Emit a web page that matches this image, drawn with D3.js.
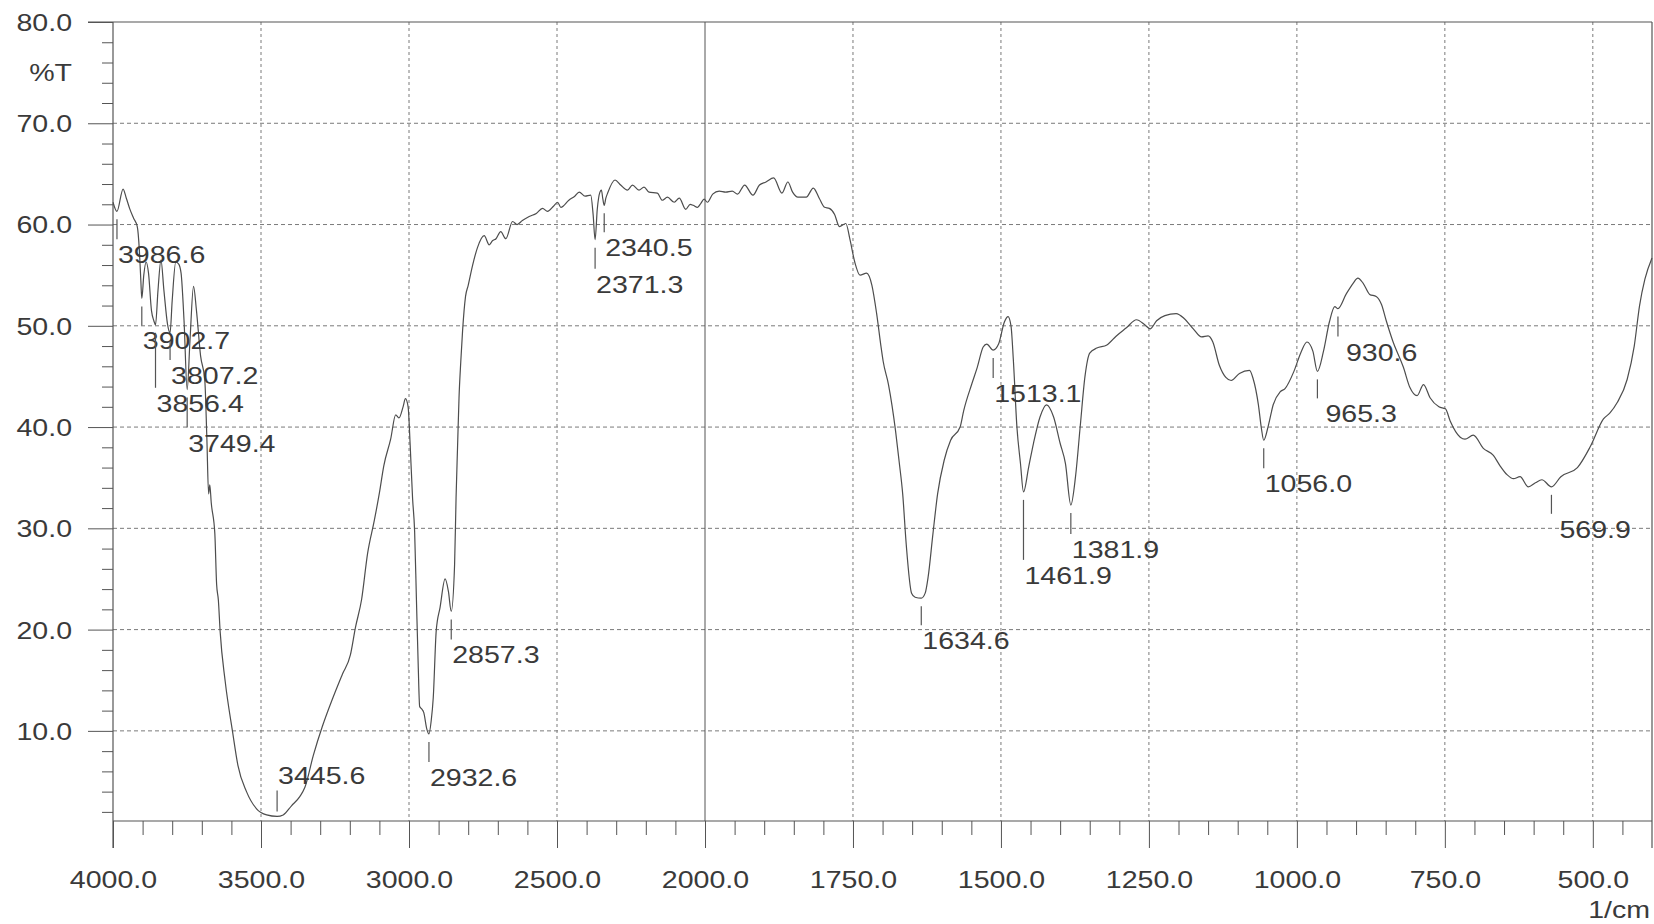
<!DOCTYPE html>
<html>
<head>
<meta charset="utf-8">
<script src="https://cdn.jsdelivr.net/npm/d3@7"></script>
<style>
  html, body { margin: 0; padding: 0; background: #ffffff; }
  svg { display: block; }
  text { font-family: "Liberation Sans", Arial, sans-serif; font-size: 24px; fill: #3a3a3a; }
</style>
</head>
<body>
<svg id="chart" width="1654" height="924"></svg>
<script>
// ---------------- data ----------------
const wavenumbers = [
  4000, 3986.6, 3966, 3955, 3944, 3930, 3918, 3911, 3906, 3902.7, 3896, 3888, 3880, 3870, 3862, 3856.4,
  3848, 3838, 3828, 3816, 3807.2, 3800, 3788, 3778, 3770, 3760, 3749.4, 3740, 3728, 3718, 3704, 3690,
  3683, 3677, 3673, 3668, 3656, 3650, 3644, 3638, 3621, 3596, 3578, 3549, 3515, 3481, 3445.6, 3425,
  3397, 3369, 3352, 3323, 3292, 3258, 3225, 3198, 3181, 3160, 3140, 3117, 3100, 3085, 3062, 3045,
  3034, 3020, 3012, 3003, 2996, 2988, 2981, 2975, 2969, 2964, 2958, 2950, 2940, 2932.6, 2925, 2918,
  2908, 2895, 2878, 2867, 2857.3, 2846, 2841, 2836, 2831, 2825, 2819, 2809, 2800, 2785, 2769, 2746,
  2729, 2718, 2706, 2690, 2673, 2650, 2635, 2617, 2594, 2570, 2549, 2532, 2512, 2498, 2487, 2460,
  2440, 2425, 2405, 2386, 2378, 2371.3, 2364, 2355, 2350, 2345, 2340.5, 2335, 2329, 2304, 2285, 2262,
  2245, 2223, 2206, 2189, 2161, 2144, 2127, 2104, 2087, 2065, 2050, 2040, 2025, 2014, 2003, 1996,
  1987, 1976, 1965, 1954, 1945, 1933, 1919, 1908, 1897, 1884, 1870, 1860, 1852, 1843, 1829, 1817,
  1807, 1798, 1790, 1781, 1773, 1762, 1755, 1747, 1738, 1727, 1718, 1710, 1703, 1699, 1690, 1678,
  1672, 1666, 1660, 1651, 1645, 1634.6, 1628, 1623, 1615, 1607, 1596, 1585, 1569, 1563, 1549, 1540,
  1530, 1524, 1513.1, 1504, 1494, 1488, 1483, 1479, 1473, 1467, 1461.9, 1453, 1445, 1434, 1423, 1411,
  1400, 1391, 1381.9, 1374, 1366, 1358, 1350, 1338, 1321, 1305, 1288, 1271, 1257, 1248, 1237, 1223,
  1204, 1190, 1175, 1161, 1150, 1142, 1131, 1120, 1111, 1097, 1080, 1074, 1065, 1060, 1056, 1048,
  1040, 1028, 1020, 1005, 993, 983, 973, 965.3, 955, 945, 936, 930.6, 917, 905, 897, 888,
  877, 866, 857, 849, 838, 820, 809, 797, 786, 775, 760, 749, 741, 724, 716, 702,
  685, 668, 657, 645, 634, 623, 609, 597, 586, 569.9, 554, 526, 504, 482, 471, 459,
  442, 430, 421, 412, 400
];
const transmittance = [
  62.2, 61.3, 63.5, 62.6, 61.6, 60.6, 59.8, 57.5, 54.5, 52.7, 55.0, 56.3, 55.2, 51.5, 50.5, 50.1,
  53.5, 56.5, 53.5, 50.2, 49.3, 52.5, 56.3, 56.1, 55.2, 50.5, 43.7, 48.5, 53.9, 51.5, 47.0, 44.7,
  39.0, 33.4, 34.3, 32.5, 29.5, 24.5, 22.9, 19.8, 14.9, 9.9, 6.6, 4.0, 2.3, 1.7, 1.55, 1.7,
  2.6, 3.5, 4.4, 7.6, 10.5, 13.2, 15.6, 17.5, 20.2, 23.0, 27.5, 30.8, 33.5, 36.2, 38.8, 41.2,
  40.9, 42.0, 42.8, 42.0, 38.2, 33.0, 29.7, 23.1, 16.6, 12.4, 12.2, 11.8, 10.2, 9.7, 11.0, 13.3,
  19.9, 22.2, 25.0, 23.8, 21.8, 26.4, 33.0, 38.0, 42.9, 46.5, 49.5, 52.9, 54.0, 56.0, 57.7, 58.9,
  58.0, 58.4, 58.6, 59.3, 58.6, 60.3, 60.0, 60.4, 60.8, 61.1, 61.6, 61.3, 61.8, 62.2, 61.7, 62.4,
  62.8, 63.2, 62.8, 62.9, 61.0, 58.5, 61.5, 63.2, 63.4, 62.5, 61.9, 62.6, 63.1, 64.4, 63.9, 63.4,
  63.9, 63.4, 63.7, 63.2, 63.1, 62.4, 62.7, 62.2, 62.6, 61.5, 62.0, 61.9, 61.7, 62.1, 62.5, 62.2,
  63.0, 63.3, 63.2, 63.3, 63.0, 63.9, 62.9, 63.9, 64.2, 64.6, 63.1, 64.2, 63.2, 62.7, 62.7, 63.6,
  62.6, 61.7, 61.6, 61.0, 59.8, 60.1, 58.5, 56.3, 55.0, 55.2, 54.0, 51.2, 48.1, 46.5, 44.2, 39.6,
  36.6, 33.4, 28.4, 23.6, 23.2, 23.1, 23.6, 25.2, 29.4, 33.4, 36.7, 38.7, 40.0, 41.6, 44.3, 45.9,
  47.9, 48.2, 47.6, 48.2, 50.4, 50.9, 50.0, 46.6, 40.0, 36.4, 33.6, 36.1, 38.4, 41.0, 42.2, 41.0,
  38.4, 36.4, 32.3, 35.1, 40.1, 45.0, 47.3, 47.8, 48.1, 49.0, 49.8, 50.6, 50.1, 49.7, 50.5, 51.0,
  51.2, 50.7, 49.7, 48.9, 49.0, 48.4, 46.1, 44.9, 44.6, 45.3, 45.6, 44.8, 42.2, 39.9, 38.7, 40.2,
  42.2, 43.5, 43.8, 45.5, 47.4, 48.4, 47.5, 45.5, 47.5, 50.4, 51.9, 51.7, 53.1, 54.2, 54.7, 54.2,
  53.1, 52.9, 52.1, 50.5, 48.5, 45.9, 43.9, 43.1, 44.2, 42.9, 42.0, 41.8, 40.6, 39.0, 38.8, 39.2,
  37.9, 37.2, 36.2, 35.3, 34.9, 35.1, 34.1, 34.5, 34.8, 34.1, 35.1, 36.0, 38.1, 40.8, 41.4, 42.4,
  44.7, 48.0, 52.0, 54.6, 56.7
];

const peakWavenumbers = [3986.6, 3902.7, 3856.4, 3807.2, 3749.4, 3445.6, 2932.6, 2857.3, 2371.3,
                         2340.5, 1634.6, 1513.1, 1461.9, 1381.9, 1056.0, 965.3, 930.6, 569.9];
const peakLabels = ["3986.6", "3902.7", "3856.4", "3807.2", "3749.4", "3445.6", "2932.6", "2857.3", "2371.3",
                    "2340.5", "1634.6", "1513.1", "1461.9", "1381.9", "1056.0", "965.3", "930.6", "569.9"];

const xTickValues = [4000, 3500, 3000, 2500, 2000, 1750, 1500, 1250, 1000, 750, 500];
const xTickLabels = ["4000.0", "3500.0", "3000.0", "2500.0", "2000.0", "1750.0", "1500.0", "1250.0", "1000.0", "750.0", "500.0"];
const yTickValues = [10, 20, 30, 40, 50, 60, 70, 80];
const yTickLabels = ["10.0", "20.0", "30.0", "40.0", "50.0", "60.0", "70.0", "80.0"];
const yUnitLabel = "%T";
const yUnitAt = 75;
const xUnitLabel = "1/cm";

// ---------------- layout / style ----------------
const markerLengths = [20, 19, 55, 19, 30, 21, 20, 20, 21, 19, 19, 20, 60, 21, 20, 19, 20, 19];
const markerAbove = [false, false, false, false, false, true, false, false, false,
                     false, false, false, false, false, false, false, false, false];
const SX = 1.19;            // horizontal stretch of the printed font
const INK = "#555";
const GRID = "#7a7a7a";

const svg = d3.select("#chart");
const L = 113, R = 1652, T = 22, B = 821;

const x = d3.scaleLinear().domain([4000, 2000, 400]).range([L, 705, R]);
const y = d3.scaleLinear().domain([1.1, 80]).range([B, T]);

// grid
const grid = svg.append("g");
grid.selectAll("line.h").data(yTickValues.filter(v => v < 80)).join("line")
  .attr("x1", L).attr("x2", R).attr("y1", d => y(d)).attr("y2", d => y(d))
  .attr("stroke", GRID).attr("stroke-width", 1).attr("stroke-dasharray", "4,3");
grid.selectAll("line.v").data(xTickValues.filter(v => v !== 4000)).join("line")
  .attr("x1", d => x(d)).attr("x2", d => x(d)).attr("y1", T).attr("y2", B)
  .attr("stroke", d => d === 2000 ? INK : GRID).attr("stroke-width", 1)
  .attr("stroke-dasharray", d => d === 2000 ? null : "3,3");

// frame
const frame = svg.append("g").attr("stroke", INK).attr("stroke-width", 1.2);
frame.append("line").attr("x1", 88).attr("x2", R).attr("y1", T).attr("y2", T);
frame.append("line").attr("x1", L).attr("x2", L).attr("y1", T).attr("y2", B + 27);
frame.append("line").attr("x1", R).attr("x2", R).attr("y1", T).attr("y2", B + 27);
frame.append("line").attr("x1", L).attr("x2", R).attr("y1", B).attr("y2", B);

// y axis
const yMinor = d3.range(2, 80, 2).filter(v => v % 10 !== 0);
svg.append("g").attr("transform", `translate(${L},0)`)
  .call(d3.axisLeft(y).tickValues(yMinor).tickSize(11).tickFormat(""))
  .call(g => g.select(".domain").remove())
  .call(g => g.selectAll("line").attr("stroke", INK));
const yAx = svg.append("g").attr("transform", `translate(${L},0)`)
  .call(d3.axisLeft(y).tickValues(yTickValues).tickSize(25).tickFormat((d, i) => yTickLabels[i]))
  .call(g => g.select(".domain").remove())
  .call(g => g.selectAll("line").attr("stroke", INK));
yAx.selectAll("text").attr("x", -41 / SX).attr("dy", "0.35em").attr("transform", `scale(${SX},1)`);

// x axis
const xMinor = d3.range(3900, 2000, -100).filter(v => v % 500 !== 0)
  .concat(d3.range(1950, 400, -50).filter(v => v % 250 !== 0));
svg.append("g").attr("transform", `translate(0,${B})`)
  .call(d3.axisBottom(x).tickValues(xMinor).tickSize(14).tickFormat(""))
  .call(g => g.select(".domain").remove())
  .call(g => g.selectAll("line").attr("stroke", INK));
const xAx = svg.append("g").attr("transform", `translate(0,${B})`)
  .call(d3.axisBottom(x).tickValues(xTickValues).tickSize(27).tickPadding(23).tickFormat((d, i) => xTickLabels[i]))
  .call(g => g.select(".domain").remove())
  .call(g => g.selectAll("line").attr("stroke", INK));
xAx.selectAll("text").attr("transform", `scale(${SX},1)`);

// unit labels
svg.append("text").attr("transform", `translate(72,${y(yUnitAt)}) scale(${SX},1)`)
  .attr("text-anchor", "end").attr("dy", "0.35em").text(yUnitLabel);
svg.append("text").attr("transform", `translate(1650,918) scale(${SX},1)`)
  .attr("text-anchor", "end").text(xUnitLabel);

// spectrum
const spectrum = wavenumbers.map((w, i) => [w, transmittance[i]]);
svg.append("path").datum(spectrum)
  .attr("fill", "none").attr("stroke", "#4d4d4d").attr("stroke-width", 1.2)
  .attr("d", d3.line().x(d => x(d[0])).y(d => y(d[1])).curve(d3.curveMonotoneX));

// peak markers and labels
const tAt = w => { const i = wavenumbers.findIndex(v => Math.abs(v - w) < 0.05); return transmittance[i]; };
const peaks = svg.append("g");
peakWavenumbers.forEach((w, i) => {
  const px = x(w), py = y(tAt(w)), len = markerLengths[i];
  const label = peakLabels[i];
  const dx = label.length < 6 ? 8 : 1;
  if (markerAbove[i]) {
    const y2 = py - 5, y1 = y2 - len;
    peaks.append("line").attr("x1", px).attr("x2", px).attr("y1", y1).attr("y2", y2)
      .attr("stroke", INK).attr("stroke-width", 1.2);
    peaks.append("text").attr("transform", `translate(${px + dx},${y1 - 6}) scale(${SX},1)`).text(label);
  } else {
    const y1 = py + 8, y2 = y1 + len;
    peaks.append("line").attr("x1", px).attr("x2", px).attr("y1", y1).attr("y2", y2)
      .attr("stroke", INK).attr("stroke-width", 1.2);
    peaks.append("text").attr("transform", `translate(${px + dx},${y2 + 24}) scale(${SX},1)`).text(label);
  }
});
</script>
</body>
</html>
